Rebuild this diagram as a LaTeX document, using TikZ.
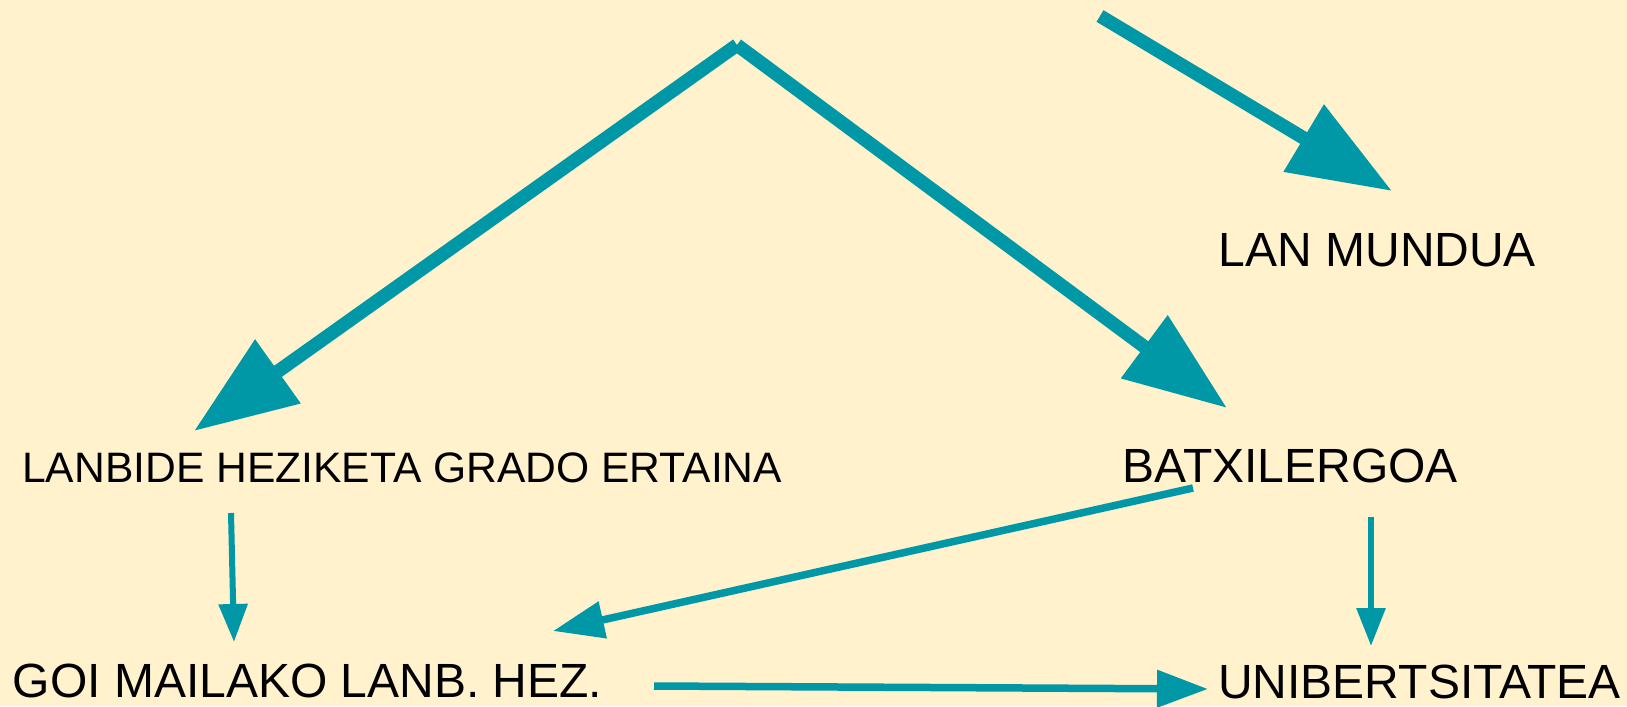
\documentclass[tikz,border=0pt]{standalone}
\usepackage{fontspec}
\setmainfont{Liberation Sans}
\usetikzlibrary{arrows.meta}
\definecolor{bgcream}{HTML}{FFF2CC}
\definecolor{pathteal}{HTML}{0097A7}

\begin{document}
\begin{tikzpicture}[x=1pt,y=-1pt,every node/.style={inner sep=0pt,anchor=base west,font=\fontsize{48}{56}\selectfont},bigarrow/.style={draw=pathteal,line width=13.5pt,-{Triangle[length=103pt,width=75pt]}},thinarrow/.style={draw=pathteal,line width=6pt,-{Triangle[length=38pt,width=28pt]}},midarrow/.style={draw=pathteal,line width=7.5pt,-{Triangle[length=51pt,width=36pt]}}]
\fill[bgcream] (0,0) rectangle (1627,706);
% labels
\node (lan) at (1218.5,266) {LAN MUNDUA};
\node[font=\fontsize{42.6}{50}\selectfont] (lanbide) at (22,482) {LANBIDE HEZIKETA GRADO ERTAINA};
\node (batx) at (1122.5,482) {BATXILERGOA};
\node (goi) at (12.6,697) {GOI MAILAKO LANB. HEZ.};
\node (uni) at (1218,698) {UNIBERTSITATEA};
% arrow ends
\coordinate (apex) at (737,45);
\coordinate (lanstart) at (1100,16);
\coordinate (lantip) at (1392,191);
\coordinate (lanbidetip) at (194,431);
\coordinate (batxtip) at (1227,408);
\coordinate (lanbideout) at (231,513);
\coordinate (goitop) at (234,642);
\coordinate (batxout) at (1193,488);
\coordinate (goiright) at (553,631);
\coordinate (batxdown) at (1371,517);
\coordinate (unitop) at (1371,646);
\coordinate (goiout) at (654,686);
\coordinate (unileft) at (1208,689);
% connectors
\draw[bigarrow] (apex) -- (lanbidetip);
\draw[bigarrow] (apex) -- (batxtip);
\draw[bigarrow] (lanstart) -- (lantip);
\draw[thinarrow] (lanbideout) -- (goitop);
\draw[midarrow] (batxout) -- (goiright);
\draw[thinarrow] (batxdown) -- (unitop);
\draw[midarrow] (goiout) -- (unileft);
\end{tikzpicture}
\end{document}
